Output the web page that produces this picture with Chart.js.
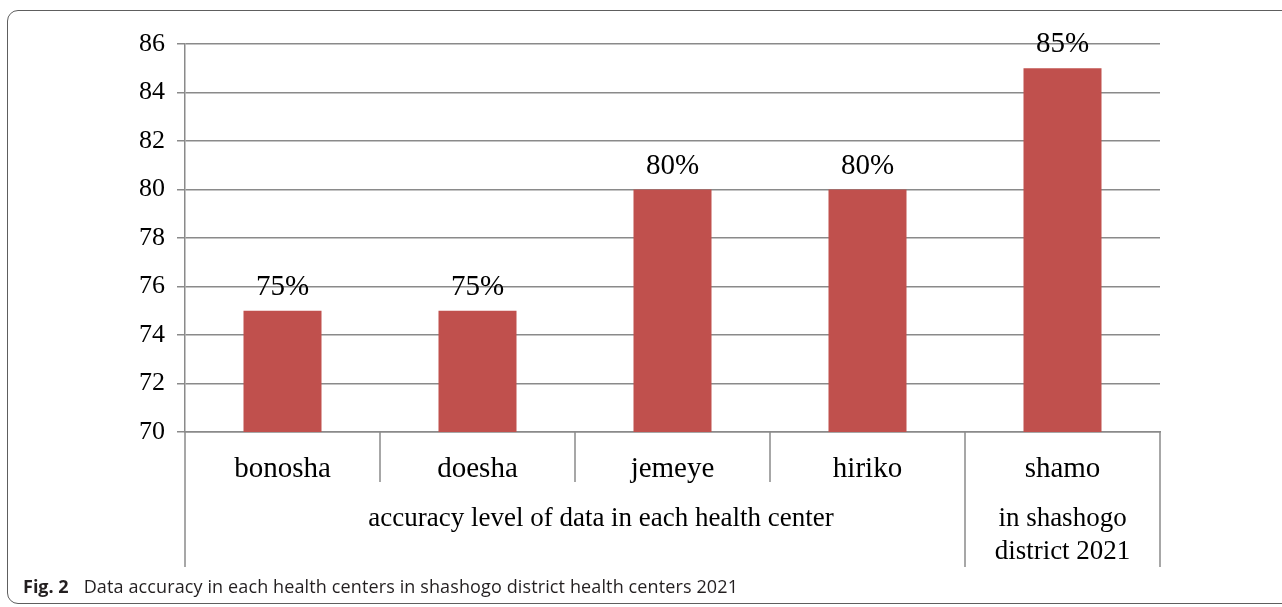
<!DOCTYPE html>
<html>
<head>
<meta charset="utf-8">
<script src="https://cdn.jsdelivr.net/npm/chart.js@4.4.1/dist/chart.umd.min.js"></script>
<style>
  html, body { margin:0; padding:0; width:1282px; height:607px; overflow:hidden; background:#fff; }
  #frame { position:absolute; left:7px; top:10px; width:1300px; height:594px; border:1.5px solid #5e5e5e; border-radius:11px; box-sizing:border-box; }
  #wrap { position:absolute; left:0; top:0; width:1282px; height:607px; }
  #caption { position:absolute; left:23px; top:577px; line-height:18px; font-family:"Open Sans", "Noto Sans", sans-serif; font-size:18px; color:#231f20; white-space:nowrap; }
  #caption b { font-weight:700; margin-right:15px; }
  #caption span { letter-spacing:0.12px; }
</style>
</head>
<body>
<div id="frame"></div>
<div id="wrap"><canvas id="c" width="1282" height="607"></canvas></div>
<div id="caption"><b>Fig. 2</b><span>Data accuracy in each health centers in shashogo district health centers 2021</span></div>
<script>
const categories = ["bonosha", "doesha", "jemeye", "hiriko", "shamo"];
const accuracy = [75, 75, 80, 80, 85];
const valueLabels = ["75%", "75%", "80%", "80%", "85%"];
const groupLabels = [
  { text: ["accuracy level of data in each health center"], from: 0, to: 3 },
  { text: ["in shashogo", "district 2021"], from: 4, to: 4 }
];
const yTicks = { min: 70, max: 86, step: 2 };

const GRID = "#8a8a8a";
const SERIF = "'Liberation Serif', 'Times New Roman', serif";

const extras = {
  id: "extras",
  afterDatasetsDraw(chart) {
    const ctx = chart.ctx;
    const x = chart.scales.x;
    const area = chart.chartArea;
    const n = categories.length;
    const half = (x.getPixelForValue(1) - x.getPixelForValue(0)) / 2;
    const shortEnd = area.bottom + 50;
    const longEnd = area.bottom + 135;
    ctx.save();
    ctx.strokeStyle = GRID;
    ctx.lineWidth = 1.5;
    const groupEdges = new Set();
    groupLabels.forEach(g => { groupEdges.add(g.from); groupEdges.add(g.to + 1); });
    for (let i = 0; i <= n; i++) {
      const px = Math.round(x.getPixelForValue(0) - half + i * 2 * half);
      const end = groupEdges.has(i) ? longEnd : shortEnd;
      ctx.beginPath();
      ctx.moveTo(px, area.bottom);
      ctx.lineTo(px, end);
      ctx.stroke();
    }
    ctx.fillStyle = "#000";
    ctx.textAlign = "center";
    ctx.textBaseline = "alphabetic";
    ctx.font = "29px " + SERIF;
    const meta = chart.getDatasetMeta(0);
    meta.data.forEach((bar, i) => {
      ctx.fillText(valueLabels[i], bar.x, bar.y - 16);
    });
    ctx.font = "27px " + SERIF;
    groupLabels.forEach(g => {
      const left = x.getPixelForValue(g.from) - half;
      const right = x.getPixelForValue(g.to) + half;
      let cx = (left + right) / 2;
      if (g.to > g.from) cx += 26;
      g.text.forEach((t, k) => {
        ctx.fillText(t, cx, area.bottom + 94 + k * 33);
      });
    });
    ctx.restore();
  }
};

new Chart(document.getElementById("c"), {
  type: "bar",
  data: {
    labels: categories,
    datasets: [{
      data: accuracy,
      backgroundColor: "#c0504d",
      borderWidth: 0,
      categoryPercentage: 1.0,
      barPercentage: 0.4
    }]
  },
  options: {
    responsive: false,
    animation: false,
    devicePixelRatio: 1,
    layout: { padding: { top: 44, right: 122, left: 0, bottom: 0 } },
    plugins: { legend: { display: false }, tooltip: { enabled: false } },
    scales: {
      x: {
        grid: { display: false },
        border: { display: true, color: GRID, width: 1.5 },
        ticks: { color: "#000", font: { family: SERIF, size: 29 }, padding: 12, maxRotation: 0, autoSkip: false },
        afterFit(s) { s.height = 175; }
      },
      y: {
        min: yTicks.min, max: yTicks.max,
        grid: { color: GRID, lineWidth: 1.5, tickLength: 8, drawTicks: true },
        border: { display: true, color: GRID, width: 1.5 },
        ticks: { stepSize: yTicks.step, color: "#000", font: { family: SERIF, size: 26 }, padding: 12 },
        afterFit(s) { s.width = 185; }
      }
    }
  },
  plugins: [extras]
});
</script>
</body>
</html>
